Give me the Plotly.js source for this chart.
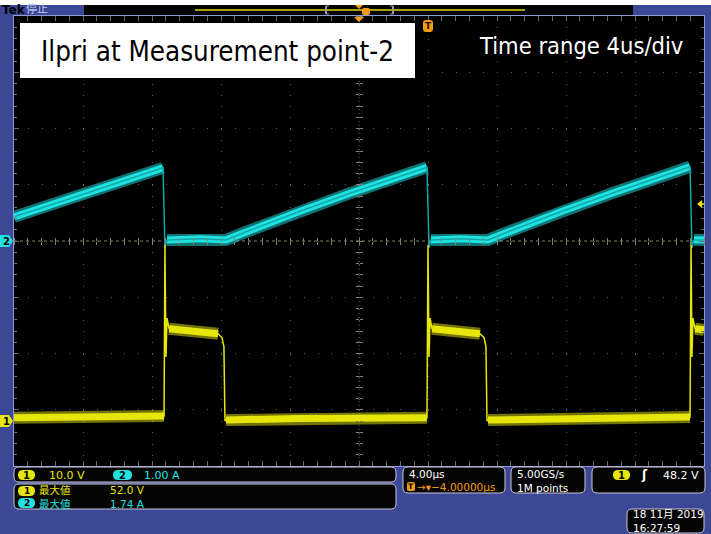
<!DOCTYPE html>
<html><head><meta charset="utf-8">
<script src="https://cdn.plot.ly/plotly-3.0.1.min.js"></script>
<style>html,body{margin:0;padding:0;background:#3c4896;}</style>
</head><body>
<div id="chart" style="width:711px;height:534px;"></div>
<script>
// ---- Data (time in µs relative to trigger) ----
// Channel 2 : primary current (A), 1.00 A/div
const ch2Time = [-24.00,-21.16,-18.26,-15.36,-15.25,-15.13,-13.22,-11.71,-10.32,-7.42,-4.52,-1.62,-0.06,0.06,0.17,1.86,3.48,4.87,7.77,10.67,13.57,15.19,15.30,15.42,16.00];
const ch2Amps = [0.43,0.71,1.01,1.30,-0.12,0.02,0.04,0.02,0.19,0.53,0.85,1.15,1.31,-0.12,0.02,0.04,0.02,0.19,0.53,0.85,1.15,1.32,-0.12,0.02,0.02];
// Channel 1 : voltage (V), 10.0 V/div
const ch1Time = [-24.00,-21.33,-18.43,-15.30,-15.25,-15.19,-15.13,-15.01,-13.22,-12.17,-11.94,-11.83,-11.77,-11.71,-7.42,-0.06,0.00,0.06,0.12,0.23,1.86,3.01,3.25,3.36,3.42,3.48,9.97,15.19,15.25,15.30,15.36,15.48,16.00];
const ch1Volts = [0.6,0.7,0.8,0.89,31.3,11.4,18.3,16.4,16.0,15.5,14.8,13.2,0.0,0.18,0.45,0.6,31.3,11.4,18.3,16.4,16.0,15.5,14.8,13.2,0.0,0.18,0.45,0.7,31.3,11.4,18.3,16.4,16.2];
// Readout texts
const ch1Scale = "10.0 V", ch2Scale = "1.00 A";
const measLabel = "最大値", ch1Max = "52.0 V", ch2Max = "1.74 A";
const timeScale = "4.00µs", timeOffset = "→▾−4.00000µs";
const sampleRate = "5.00GS/s", recordLen = "1M points";
const trigLevel = "48.2 V";
const dateText = "18 11月 2019", clockText = "16:27:59";
const titleText = "Ilpri at Measurement point-2";
const rangeText = "Time range 4us/div";

// ---- helpers ----
const L = 14, T = 16, W = 690, H = 450;
const X = px => (px - L) / W;
const Y = py => (T + H - py) / H;
function band(t, v) { // break the thick band at fast edges
  const bx = [], by = [];
  for (let i = 0; i < t.length; i++) {
    bx.push(t[i]); by.push(v[i]);
    if (i < t.length - 1 && t[i + 1] - t[i] < 0.25) { bx.push(null); by.push(null); }
  }
  return [bx, by];
}
function rrect(x0, y0, x1, y1, r) {
  return `M${X(x0+r)},${Y(y0)} L${X(x1-r)},${Y(y0)} Q${X(x1)},${Y(y0)} ${X(x1)},${Y(y0+r)} ` +
    `L${X(x1)},${Y(y1-r)} Q${X(x1)},${Y(y1)} ${X(x1-r)},${Y(y1)} L${X(x0+r)},${Y(y1)} ` +
    `Q${X(x0)},${Y(y1)} ${X(x0)},${Y(y1-r)} L${X(x0)},${Y(y0+r)} Q${X(x0)},${Y(y0)} ${X(x0+r)},${Y(y0)} Z`;
}
function poly(pts) { return 'M' + pts.map(p => X(p[0]) + ',' + Y(p[1])).join(' L') + ' Z'; }
const shp = (path, fill, lc, lw) => ({type:'path', xref:'paper', yref:'paper', path, fillcolor:fill, line:{color:lc||fill, width:lw===undefined?0:lw}, layer:'above'});
const rect = (x0,y0,x1,y1,fill) => ({type:'rect', xref:'paper', yref:'paper', x0:X(x0), x1:X(x1), y0:Y(y1), y1:Y(y0), fillcolor:fill, line:{width:0}, layer:'above'});
const seg = (x0,y0,x1,y1,c,w) => ({type:'line', xref:'paper', yref:'paper', x0:X(x0), x1:X(x1), y0:Y(y0), y1:Y(y1), line:{color:c, width:w||1}, layer:'above'});
const FONT = "DejaVu Sans, Noto Sans CJK JP, sans-serif";
function txt(x, y, text, color, size, opts) {
  return Object.assign({xref:'paper', yref:'paper', x:X(x), y:Y(y), text, showarrow:false, align:'left',
    xanchor:'left', yanchor:'middle', font:{family:FONT, size:size||11, color}, borderpad:0}, opts||{});
}

const YEL = '#e6e60a', CYA = '#1fe3e3', ORG = '#f39c12';
const [b1x, b1y] = band(ch1Time, ch1Volts);
const [b2x, b2y] = band(ch2Time, ch2Amps);

const traces = [
  {x:b1x, y:b1y, yaxis:'y2', mode:'lines', line:{color:'rgba(230,230,10,0.5)', width:12}, connectgaps:false},
  {x:b1x, y:b1y, yaxis:'y2', mode:'lines', line:{color:YEL, width:7}, connectgaps:false},
  {x:ch1Time, y:ch1Volts, yaxis:'y2', mode:'lines', line:{color:YEL, width:1.5}},
  {x:b2x, y:b2y, mode:'lines', line:{color:'rgba(31,227,227,0.5)', width:12}, connectgaps:false},
  {x:b2x, y:b2y, mode:'lines', line:{color:CYA, width:7}, connectgaps:false},
  {x:ch2Time, y:ch2Amps, mode:'lines', line:{color:'#12a8a8', width:1.5}},
  {x:[], y:[], xaxis:'x3', yaxis:'y3'},
  {x:[], y:[], xaxis:'x4', yaxis:'y4'}
];

const axBase = {showticklabels:false, zeroline:false, fixedrange:true};
const crossTick = {tickcolor:'#8a806c', ticklen:3, showgrid:false, showline:false};
const layout = {
  width:711, height:534, margin:{l:L, r:711-L-W, t:T, b:534-T-H, pad:0},
  paper_bgcolor:'#3c4896', plot_bgcolor:'#000000', showlegend:false, hovermode:false,
  xaxis:Object.assign({}, axBase, {range:[-24,16], autorange:false, tick0:0, dtick:4, showgrid:true, gridcolor:'#5e5e5e', griddash:'1px,10.25px', gridwidth:1,
    showline:true, linecolor:'#8f9bd8', linewidth:1, mirror:'allticks', ticks:'inside', ticklen:5, tickcolor:'#6a6a6a',
    minor:{dtick:0.8, ticks:'inside', ticklen:3, tickcolor:'#6a6a6a', showgrid:false}}),
  yaxis:Object.assign({}, axBase, {range:[-4,4], autorange:false, tick0:0, dtick:1, showgrid:true, gridcolor:'#5e5e5e', griddash:'1px,12.8px', gridwidth:1,
    showline:true, linecolor:'#8f9bd8', linewidth:1, mirror:'allticks', ticks:'inside', ticklen:5, tickcolor:'#6a6a6a',
    minor:{dtick:0.2, ticks:'inside', ticklen:3, tickcolor:'#6a6a6a', showgrid:false}}),
  // channel 1: ground marker 3.2 div below centre, 10 V/div -> -8 V .. 72 V
  yaxis2:Object.assign({}, axBase, {range:[-8,72], autorange:false, overlaying:'y', side:'right', anchor:'x', showgrid:false, showline:false, ticks:''}),
  xaxis3:Object.assign({}, axBase, crossTick, {range:[-24,16], autorange:false, tick0:0, dtick:0.8, overlaying:'x', anchor:'free', position:0.5, side:'bottom', ticks:'outside'}),
  xaxis4:Object.assign({}, axBase, crossTick, {range:[-24,16], autorange:false, tick0:0, dtick:0.8, overlaying:'x', anchor:'free', position:0.5, side:'top', ticks:'outside'}),
  yaxis3:Object.assign({}, axBase, crossTick, {range:[-4,4], autorange:false, tick0:0, dtick:0.2, overlaying:'y', anchor:'free', position:0.5, side:'left', ticks:'outside'}),
  yaxis4:Object.assign({}, axBase, crossTick, {range:[-4,4], autorange:false, tick0:0, dtick:0.2, overlaying:'y', anchor:'free', position:0.5, side:'right', ticks:'outside'}),
  shapes:[
    {type:'line', xref:'x', yref:'y', x0:-24, x1:16, y0:0, y1:0, line:{color:'#8a7e68', width:1, dash:'3px,3px'}, layer:'between'},
    {type:'line', xref:'x', yref:'y', x0:-4, x1:-4, y0:-4, y1:4, line:{color:'#6a6a6a', width:1, dash:'1px,3px'}, layer:'between'},
    // top status bar
    rect(0,0,711,5,'#ffffff'),
    rect(84,5,633,15,'#050505'),
    seg(195,10,525,10,'#a8a000',2),
    seg(326,6,326,14,'#9a9a9a',2), seg(326,6,329,6,'#9a9a9a',1), seg(326,14,329,14,'#9a9a9a',1),
    seg(393,6,393,14,'#9a9a9a',2), seg(390,6,393,6,'#9a9a9a',1), seg(390,14,393,14,'#9a9a9a',1),
    shp(poly([[355,5],[363,5],[359,9]]), ORG),
    shp(rrect(362,8,370,15,2), ORG),
    shp(poly([[354,17],[364,17],[359,22]]), ORG),
    shp(rrect(423,20,433,32,3), ORG),
    // title box
    rect(20,23,415,78,'#ffffff'),
    // channel markers
    shp(poly([[0,235],[9,235],[13,241],[9,247],[0,247]]), CYA),
    shp(poly([[0,415],[9,415],[13,421],[9,427],[0,427]]), YEL),
    shp(poly([[697,204],[702,200],[702,208]]), YEL),
    seg(700,204,704,204,YEL,1.5),
    // readout boxes
    shp(rrect(14,467,396,482,5), '#050505', '#c8c8d0', 1),
    shp(rrect(14,484,396,509,5), '#050505', '#c8c8d0', 1),
    shp(rrect(403,467,505,493,5), '#050505', '#c8c8d0', 1),
    shp(rrect(511,467,585,493,5), '#050505', '#c8c8d0', 1),
    shp(rrect(592,467,705,493,5), '#050505', '#c8c8d0', 1),
    shp(rrect(627,509,704,533,5), '#050505', '#c8c8d0', 1),
    shp(rrect(18,470,35,480,5), YEL),
    shp(rrect(113,470,132,480,5), CYA),
    shp(rrect(18,486,35,496,5), YEL),
    shp(rrect(18,498,35,508,5), CYA),
    shp(rrect(613,470,630,480,5), YEL),
    shp(rrect(407,482,415,491,2), ORG)
  ],
  annotations:[
    txt(1,10,'<b>Tek</b>','#000000',12),
    txt(25,10,'停止','#c0c8f0',11),
    txt(428,26,'<b>T</b>','#1a1000',9,{xanchor:'center'}),
    txt(40,51,titleText,'#000000',27.5,{font:{family:'DejaVu Sans Condensed, sans-serif', size:27.5, color:'#000000'}}),
    txt(478,46,rangeText,'#ffffff',23.5,{font:{family:'DejaVu Sans Condensed, sans-serif', size:23.5, color:'#ffffff'}}),
    txt(6,241,'<b>2</b>','#000000',10,{xanchor:'center'}),
    txt(6,421,'<b>1</b>','#000000',10,{xanchor:'center'}),
    txt(26.5,475,'<b>1</b>','#000000',10,{xanchor:'center'}),
    txt(48,475,ch1Scale,YEL,11),
    txt(122.5,475,'<b>2</b>','#000000',10,{xanchor:'center'}),
    txt(143,475,ch2Scale,CYA,11),
    txt(26.5,497,'<b>1</b><br><b>2</b>','#000000',9,{xanchor:'center'}),
    txt(38,497,`<span style="color:${YEL}">${measLabel}</span><br><span style="color:${CYA}">${measLabel}</span>`,YEL,10.5),
    txt(109,497,`<span style="color:${YEL}">${ch1Max}</span><br><span style="color:${CYA}">${ch2Max}</span>`,YEL,10.5),
    txt(408,474,timeScale,'#ffffff',10.5),
    txt(416,487,timeOffset,ORG,10.5),
    txt(411,486.5,'<b>T</b>','#000000',7.5,{xanchor:'center'}),
    txt(516,481,`${sampleRate}<br>${recordLen}`,'#ffffff',10.5),
    txt(621.5,475,'<b>1</b>','#000000',10,{xanchor:'center'}),
    txt(640,475,'<b>ʃ</b>','#ffffff',12),
    txt(662,475,trigLevel,'#ffffff',11),
    txt(632,521,`${dateText}<br>${clockText}`,'#ffffff',10.5)
  ]
};
Plotly.newPlot('chart', traces, layout, {staticPlot:true, displayModeBar:false});
</script>
</body></html>
